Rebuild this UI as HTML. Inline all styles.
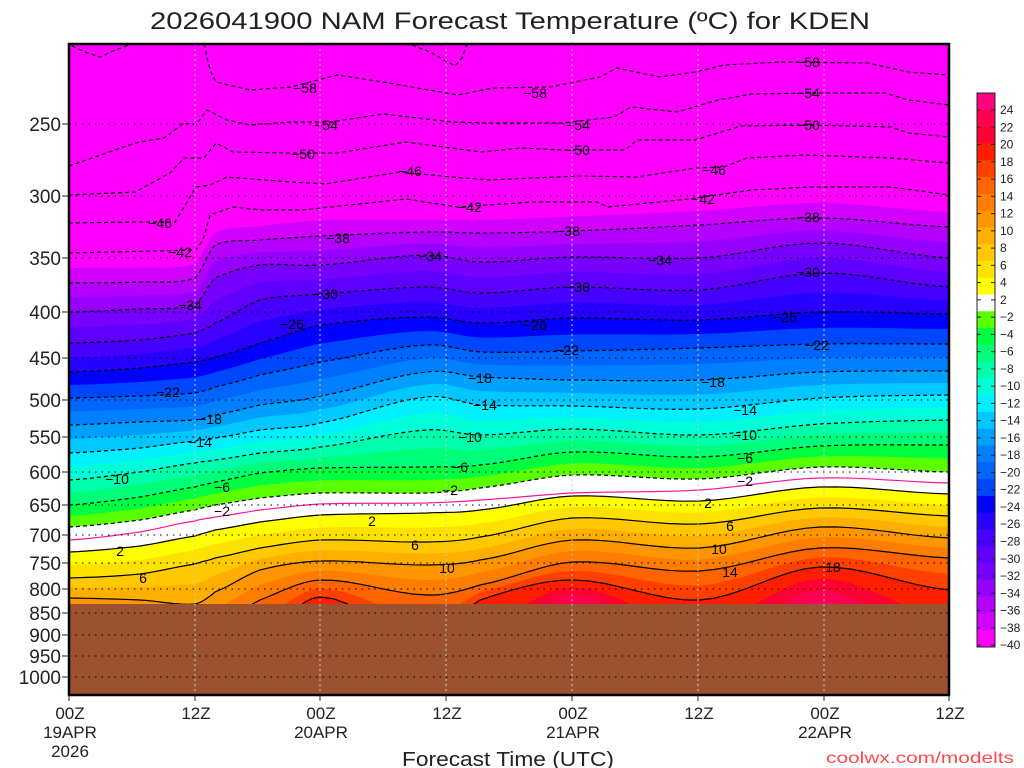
<!DOCTYPE html>
<html><head><meta charset="utf-8"><style>
html,body{margin:0;padding:0;background:#fff;}
svg{display:block;font-family:"Liberation Sans","DejaVu Sans",sans-serif;}
</style></head><body>
<svg id="s" width="1024" height="768" viewBox="0 0 1024 768" xmlns="http://www.w3.org/2000/svg">
<defs><clipPath id="pc"><rect x="69" y="44" width="880" height="652"/></clipPath></defs>
<rect width="1024" height="768" fill="#fff"/>
<g id="fills" clip-path="url(#pc)"><rect x="69" y="44" width="880" height="652" fill="#ff00ff"/></g>
<g id="lines" clip-path="url(#pc)" fill="none"></g>
<g id="labs" font-size="14" text-anchor="middle" fill="#000"></g>
<rect x="69" y="604" width="880" height="91" fill="#9c5230"/>
<g id="grid"></g>
<rect x="69" y="44" width="880" height="651" fill="none" stroke="#000" stroke-width="2.5"/>
<text x="510" y="29" font-size="24" text-anchor="middle" textLength="720" lengthAdjust="spacingAndGlyphs" fill="#222">2026041900 NAM Forecast Temperature (ºC) for KDEN</text>
<g id="axes" fill="#222"></g>
<text x="508" y="766" font-size="20" text-anchor="middle" textLength="212" lengthAdjust="spacingAndGlyphs" fill="#222">Forecast Time (UTC)</text>
<text x="1014" y="763" font-size="16" text-anchor="end" textLength="188" lengthAdjust="spacingAndGlyphs" fill="#ff4848">coolwx.com/modelts</text>
<g id="cbar"></g>
</svg>
<script>
var NS="http://www.w3.org/2000/svg";
function el(p,t,a,txt){var e=document.createElementNS(NS,t);for(var k in a)e.setAttribute(k,a[k]);if(txt!==undefined)e.textContent=txt;p.appendChild(e);return e;}
var X=[69,140,195,215,260,320,427,480,572,700,820,949];
var D={
"-42":[253,253,250,220,212,205,208,207,202,197,188,197],
"-38":[283,282,278,245,240,236,232,233,231,225,218,227],
"-34":[312,309,305,278,265,265,255,262,257,258,243,258],
"-30":[343,340,333,323,300,294,287,293,287,290,273,287],
"-26":[372,368,362,357,343,325,317,323,318,320,312,314],
"-22":[398,396,393,387,375,362,345,352,351,348,344,344],
"-18":[425,422,420,415,405,396,372,377,380,380,372,371],
"-14":[453,448,441,438,430,423,397,405,406,409,398,395],
"-10":[480,472,463,460,453,447,430,435,429,435,424,420],
"-6":[505,497,487,482,473,468,467,465,452,457,446,445],
"-2":[527,520,510,505,498,493,493,488,475,479,467,472],
"0":[540,532,521,517,510,504,503,500,493,490,478,483],
"2":[552,546,536,530,522,515,513,510,496,501,487,494],
"6":[578,574,564,558,548,540,542,537,518,524,508,516],
"10":[598,600,604,592,570,561,565,560,540,548,527,538],
"14":[640,640,640,625,600,580,595,585,562,571,548,558],
"18":[680,680,680,665,640,597,640,600,580,600,567,590],
"22":[720,720,720,710,700,650,700,660,595,650,590,650],
"26":[760,760,760,750,740,700,740,700,620,700,612,700]};
var TS=Object.keys(D).map(Number).sort(function(a,b){return a-b});
function curve(T){var a,b;for(var i=0;i<TS.length-1;i++){if(T>=TS[i]&&T<=TS[i+1]){a=TS[i];b=TS[i+1];break;}}
 if(a===undefined){if(T<TS[0]){a=TS[0];b=TS[1];}else{a=TS[TS.length-2];b=TS[TS.length-1];}}
 var f=(T-a)/(b-a);return D[a].map(function(v,i){return v+(D[b][i]-v)*f;});}
function smooth(ys){
 var pts=[];for(var i=0;i<X.length-1;i++){var x1=X[i],x2=X[i+1];
 var y0=ys[Math.max(0,i-1)],y1=ys[i],y2=ys[i+1],y3=ys[Math.min(X.length-1,i+2)];
 for(var s=0;s<8;s++){var t=s/8,t2=t*t,t3=t2*t;
 var y=0.5*((2*y1)+(-y0+y2)*t+(2*y0-5*y1+4*y2-y3)*t2+(-y0+3*y1-3*y2+y3)*t3);
 var lo=Math.min(y1,y2)-4,hi=Math.max(y1,y2)+4;y=Math.max(lo,Math.min(hi,y));
 pts.push([x1+(x2-x1)*t,y]);}}
 pts.push([X[X.length-1],ys[ys.length-1]]);return pts;}
var COL={"-40":"#d200ff","-38":"#b400ff","-36":"#9600ff","-34":"#7800ff","-32":"#5f00ff","-30":"#4600ff","-28":"#2800ff","-26":"#0000ff","-24":"#0046ff","-22":"#0064ff","-20":"#0080ff","-18":"#00a0ff","-16":"#00c8ff","-14":"#00f0ff","-12":"#00ffd8","-10":"#00ffaa","-8":"#00ff78","-6":"#00ff40","-4":"#5aff00","-2":"#ffffff","0":"#ffffff","2":"#ffff00","4":"#ffe100","6":"#ffc800","8":"#ffaf00","10":"#ff9600","12":"#ff7d00","14":"#ff6400","16":"#ff4000","18":"#ff1e00","20":"#ff0032","22":"#ff0050","24":"#ff0080"};
var F=document.getElementById("fills");
for(var t=-40;t<=24;t+=2){var p=smooth(curve(t));var d="M"+p.map(function(q){return q[0].toFixed(1)+","+q[1].toFixed(1)}).join("L")+"L949,700L69,700Z";
 el(F,"path",{d:d,fill:COL[t]});}
var L=document.getElementById("lines");
function pl(p,st,dash,w){el(L,"path",{d:"M"+p.map(function(q){return q[0].toFixed(1)+","+q[1].toFixed(1)}).join("L"),stroke:st,"stroke-width":w||1.2,"stroke-dasharray":dash||"none"});}
[-38,-34,-30,-26,-22,-18,-14,-10,-6,-2].forEach(function(T){pl(smooth(D[T]),"#000","4,3");});
pl(smooth(D[0]),"#ff1493");
[2,6,10,14,18].forEach(function(T){pl(smooth(D[T]),"#000");});
var up={
"-42":[[69,253],[196,250],[203,240],[210,215],[233,207],[262,210],[302,210],[406,199],[458,207],[533,202],[597,202],[608,207],[689,199],[752,190],[810,187],[891,187],[949,195]],
"-46":[[69,223],[135,222],[175,222],[196,187],[210,185],[227,177],[291,182],[325,184],[400,172],[452,177],[490,180],[579,176],[637,177],[695,168],[724,167],[747,158],[804,155],[891,158],[949,163]],
"-50":[[69,195],[135,192],[170,173],[184,158],[204,158],[216,143],[233,152],[291,153],[337,153],[406,142],[481,152],[522,148],[562,150],[625,150],[637,140],[695,140],[741,126],[810,125],[891,127],[908,133],[949,137]],
"-54":[[69,166],[135,143],[164,138],[184,123],[196,125],[207,110],[227,120],[250,125],[291,122],[331,122],[383,114],[452,122],[487,123],[562,123],[614,117],[631,107],[677,112],[718,100],[752,94],[810,93],[885,93],[908,100],[949,105]],
"-58":[[204,44],[210,70],[216,82],[250,90],[291,87],[337,75],[383,82],[458,95],[493,88],[550,87],[600,77],[617,68],[660,77],[695,72],[724,65],[781,62],[868,63],[908,72],[949,75]],
"a":[[72,46],[85,52],[100,57],[115,50],[132,44]],
"b":[[412,45],[430,52],[455,66],[462,58],[467,44]]};
for(var k in up)pl(up[k],"#000","4,3");
var LB=document.getElementById("labs");
var labs=[["−58",305,88],["−58",535,93],["−58",808,62],["−54",326,125],["−54",578,125],["−54",808,93],["−50",303,154],["−50",578,150],["−50",808,125],["−46",410,171],["−46",714,170],["−46",160,223],["−42",180,252],["−42",470,207],["−42",703,199],["−38",338,238],["−38",568,231],["−38",808,217],["−34",190,305],["−34",430,256],["−34",660,260],["−30",326,294],["−30",578,287],["−30",808,272],["−26",292,324],["−26",535,325],["−26",785,317],["−22",168,392],["−22",567,350],["−22",817,345],["−18",210,419],["−18",480,378],["−18",713,382],["−14",200,442],["−14",485,405],["−14",745,410],["−10",117,479],["−10",470,437],["−10",745,435],["−6",222,487],["−6",460,467],["−6",745,458],["−2",222,511],["−2",450,490],["−2",745,481],["2",120,551],["2",372,521],["2",708,503],["6",143,578],["6",415,545],["6",730,526],["10",447,568],["10",719,549],["14",730,572],["18",833,567]];
labs.forEach(function(l){el(LB,"text",{x:l[1],y:l[2]+5},l[0]);});
var G=document.getElementById("grid"),A=document.getElementById("axes");
var P=[[250,124],[300,196],[350,258],[400,312],[450,358],[500,400],[550,437],[600,472],[650,505],[700,535],[750,563],[800,589],[850,613],[900,635],[950,656],[1000,677]];
P.forEach(function(p){el(G,"line",{x1:69,x2:949,y1:p[1],y2:p[1],stroke:"#000","stroke-width":1,"stroke-dasharray":"1.5,5"});
 el(A,"line",{x1:62,x2:69,y1:p[1],y2:p[1],stroke:"#222"});
 el(A,"text",{x:61,y:p[1]+7,"font-size":19,"text-anchor":"end"},String(p[0]));});
[195,320,446,572,698,824].forEach(function(x){el(G,"line",{x1:x,x2:x,y1:44,y2:695,stroke:"#c8c8c8","stroke-width":1,"stroke-dasharray":"2,3"});});
var XT=[[69,"00Z","19APR","2026"],[195,"12Z"],[320,"00Z","20APR"],[446,"12Z"],[572,"00Z","21APR"],[698,"12Z"],[824,"00Z","22APR"],[949,"12Z"]];
XT.forEach(function(t){el(A,"line",{x1:t[0],x2:t[0],y1:695,y2:701,stroke:"#222"});
 for(var i=1;i<t.length;i++)el(A,"text",{x:t[0]+1,y:719+(i-1)*19,"font-size":17,"text-anchor":"middle"},t[i]);});
var C=document.getElementById("cbar");
var order=["24"];for(var v=22;v>=2;v-=2)order.push(String(v));order.push("0");for(var v=-4;v>=-40;v-=2)order.push(String(v));
var cols=order.map(function(k){return COL[k];});cols.push("#ff00ff");
var h=(647-93)/cols.length;
cols.forEach(function(c,i){el(C,"rect",{x:977,y:93+i*h,width:18,height:h+0.5,fill:c});});
el(C,"rect",{x:977,y:93,width:18,height:554,fill:"none",stroke:"#222","stroke-width":1});
var cl=[];for(var v=24;v>=2;v-=2)cl.push(String(v));for(var v=-2;v>=-40;v-=2)cl.push("−"+(-v));
cl.forEach(function(s,i){var y=110+i*17.26;el(C,"line",{x1:977,x2:981,y1:y,y2:y,stroke:"#222"});el(C,"line",{x1:991,x2:995,y1:y,y2:y,stroke:"#222"});
 el(C,"text",{x:1000,y:y+4,"font-size":12,fill:"#222"},s);});
</script>
</body></html>
